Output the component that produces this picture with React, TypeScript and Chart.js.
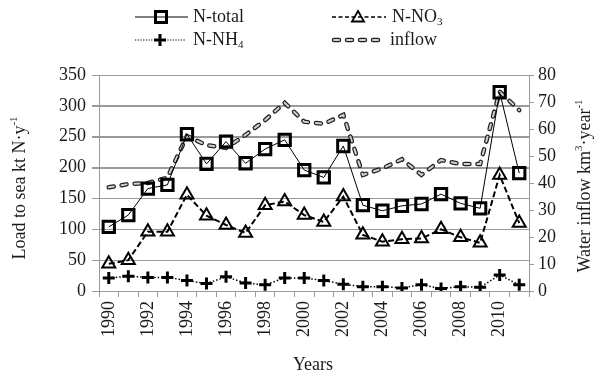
import React, { useEffect, useRef } from "react";
import { Chart, registerables } from "chart.js";

Chart.register(...registerables);

const years = ["1990","1991","1992","1993","1994","1995","1996","1997","1998","1999","2000","2001","2002","2003","2004","2005","2006","2007","2008","2009","2010","2011"];
const nTotal = [104, 123, 166, 172, 254, 206, 242, 207, 230, 245, 196, 184, 235, 139, 130, 138, 141, 157, 142, 134, 322, 191];
const nNO3 = [44, 50, 96, 96, 156, 122, 107, 94, 139, 145, 123, 112, 153, 91, 80, 84, 85, 100, 87, 78, 188, 110];
const nNH4 = [21, 24, 22, 22, 17, 12, 23, 13, 10, 21, 21, 17, 11, 7, 7, 5, 10, 4, 7, 6, 26, 10];
const inflow = [38.4, 39.6, 40, 42, 57.4, 54, 53, 57.8, 63.3, 69.7, 62.7, 61.9, 65.2, 43, 45.4, 48.8, 43, 48.5, 47, 47, 73.8, 67];
const leftTicks = [0, 50, 100, 150, 200, 250, 300, 350];

const leftTitle = [{ t: "Load to sea kt N·y", m: "n" }, { t: "-1", m: "sup" }];
const rightTitle = [{ t: "Water inflow km", m: "n" }, { t: "3", m: "sup" }, { t: "·year", m: "n" }, { t: "-1", m: "sup" }];
const xTitle = "Years";
const legendNames = {
  total: [{ t: "N-total", m: "n" }],
  no3: [{ t: "N-NO", m: "n" }, { t: "3", m: "sub" }],
  nh4: [{ t: "N-NH", m: "n" }, { t: "4", m: "sub" }],
  inflow: [{ t: "inflow", m: "n" }],
};

const FONT = '"Liberation Serif", "Times New Roman", Times, serif';
const GRID = "#9a9a9a";
const TEXT = "#1a1a1a";

type Part = { t: string; m: string };

function partFont(p: Part, size: number) {
  const s = p.m === "n" ? size : Math.round(size * 0.62);
  return `${s}px ${FONT}`;
}
function richWidth(ctx: CanvasRenderingContext2D, parts: Part[], size: number) {
  let w = 0;
  for (const p of parts) {
    ctx.font = partFont(p, size);
    w += ctx.measureText(p.t).width;
  }
  return w;
}
function drawRich(ctx: CanvasRenderingContext2D, parts: Part[], x: number, y: number, size: number, align: string, rot: number) {
  ctx.save();
  ctx.translate(x, y);
  ctx.rotate(rot);
  ctx.textBaseline = "middle";
  ctx.textAlign = "left";
  ctx.fillStyle = TEXT;
  const w = richWidth(ctx, parts, size);
  let cx = align === "center" ? -w / 2 : 0;
  for (const p of parts) {
    ctx.font = partFont(p, size);
    const dy = p.m === "sub" ? size * 0.3 : p.m === "sup" ? -size * 0.33 : 0;
    ctx.fillText(p.t, cx, dy);
    cx += ctx.measureText(p.t).width;
  }
  ctx.restore();
}

function square(ctx: CanvasRenderingContext2D, x: number, y: number, s: number) {
  ctx.save();
  ctx.strokeStyle = "#000";
  ctx.lineWidth = 3;
  ctx.strokeRect(x - s / 2, y - s / 2, s, s);
  ctx.restore();
}
function triangle(ctx: CanvasRenderingContext2D, x: number, y: number, r: number) {
  ctx.save();
  ctx.strokeStyle = "#000";
  ctx.lineWidth = 1.8;
  ctx.beginPath();
  ctx.moveTo(x, y - r);
  ctx.lineTo(x + r * 0.866, y + r * 0.5);
  ctx.lineTo(x - r * 0.866, y + r * 0.5);
  ctx.closePath();
  ctx.stroke();
  ctx.restore();
}
function plus(ctx: CanvasRenderingContext2D, x: number, y: number, r: number) {
  ctx.save();
  ctx.strokeStyle = "#000";
  ctx.lineWidth = 3;
  ctx.beginPath();
  ctx.moveTo(x - r, y);
  ctx.lineTo(x + r, y);
  ctx.moveTo(x, y - r);
  ctx.lineTo(x, y + r);
  ctx.stroke();
  ctx.restore();
}
function seg(ctx: CanvasRenderingContext2D, x1: number, x2: number, y: number, w: number, dash: number[], color: string, cap: CanvasLineCap) {
  ctx.save();
  ctx.strokeStyle = color;
  ctx.lineWidth = w;
  ctx.setLineDash(dash);
  ctx.lineCap = cap;
  ctx.beginPath();
  ctx.moveTo(x1, y);
  ctx.lineTo(x2, y);
  ctx.stroke();
  ctx.restore();
}

const gridPlugin = {
  id: "hgrid",
  beforeDatasetsDraw(chart: any) {
    const ctx: CanvasRenderingContext2D = chart.ctx;
    const ys = chart.scales.y;
    const area = chart.chartArea;
    ctx.save();
    ctx.strokeStyle = GRID;
    ctx.lineWidth = 1;
    for (const v of leftTicks) {
      const py = Math.round(ys.getPixelForValue(v)) + 0.5;
      ctx.beginPath();
      ctx.moveTo(area.left - 7, py);
      ctx.lineTo(area.right, py);
      ctx.stroke();
    }
    ctx.restore();
  },
};

const decorPlugin = {
  id: "decor",
  afterDraw(chart: any) {
    const ctx: CanvasRenderingContext2D = chart.ctx;
    // legend row 1
    seg(ctx, 135, 188, 17, 1, [], "#000", "butt");
    square(ctx, 161, 17, 11);
    drawRich(ctx, legendNames.total, 193, 17, 18, "left", 0);
    seg(ctx, 332, 386, 17, 1.6, [4, 2.5], "#000", "butt");
    triangle(ctx, 358, 18, 7);
    drawRich(ctx, legendNames.no3, 392, 17, 18, "left", 0);
    // legend row 2
    seg(ctx, 135, 186, 40, 1.2, [1.2, 1.5], "#000", "butt");
    plus(ctx, 160, 40, 6);
    drawRich(ctx, legendNames.nh4, 193, 40, 18, "left", 0);
    seg(ctx, 334, 384, 40, 4.5, [5, 8], "#222", "round");
    seg(ctx, 334, 384, 40, 2, [5, 8], "#d0d0d0", "round");
    drawRich(ctx, legendNames.inflow, 390, 40, 18, "left", 0);
    // axis titles
    drawRich(ctx, leftTitle as Part[], 20, 188, 18, "center", -Math.PI / 2);
    drawRich(ctx, rightTitle as Part[], 585, 186, 18, "center", -Math.PI / 2);
    drawRich(ctx, [{ t: xTitle, m: "n" }], 313, 365, 18, "center", 0);
  },
};

export default function App() {
  const ref = useRef<HTMLCanvasElement>(null);
  useEffect(() => {
    const canvas = ref.current!;
    const tickFont = { family: FONT, size: 18 };
    const chart = new Chart(canvas, {
      type: "line",
      data: {
        labels: years,
        datasets: [
          {
            label: "N-total",
            data: nTotal,
            yAxisID: "y",
            borderColor: "#000",
            borderWidth: 1,
            pointStyle: "rect",
            pointRadius: 8,
            pointBorderWidth: 3,
            pointBorderColor: "#000",
            pointBackgroundColor: "rgba(0,0,0,0)",
            tension: 0,
          },
          {
            label: "N-NO3",
            data: nNO3,
            yAxisID: "y",
            borderColor: "#000",
            borderWidth: 2,
            borderDash: [6, 3],
            pointStyle: "triangle",
            pointRadius: 7.5,
            pointBorderWidth: 2,
            pointBorderColor: "#000",
            pointBackgroundColor: "rgba(0,0,0,0)",
            tension: 0,
          },
          {
            label: "N-NH4",
            data: nNH4,
            yAxisID: "y",
            borderColor: "#000",
            borderWidth: 1.5,
            borderDash: [1.5, 2],
            pointStyle: "cross",
            pointRadius: 6,
            pointBorderWidth: 3,
            pointBorderColor: "#000",
            tension: 0,
          },
          {
            label: "inflow",
            data: inflow,
            yAxisID: "y2",
            borderColor: "#d0d0d0",
            borderWidth: 2,
            borderDash: [5, 8],
            borderCapStyle: "round",
            pointRadius: 0,
            tension: 0,
          },
          {
            label: "inflow-outline",
            data: inflow,
            yAxisID: "y2",
            borderColor: "#222",
            borderWidth: 4.5,
            borderDash: [5, 8],
            borderCapStyle: "round",
            pointRadius: 0,
            tension: 0,
          },
        ],
      },
      options: {
        responsive: false,
        animation: false,
        layout: { padding: { top: 75, left: 0, right: 0, bottom: 0 } },
        plugins: { legend: { display: false }, tooltip: { enabled: false }, title: { display: false } },
        scales: {
          x: {
            type: "category",
            offset: true,
            grid: { offset: true, drawOnChartArea: false, drawTicks: true, tickLength: 6, color: GRID },
            border: { display: true, color: GRID },
            ticks: {
              autoSkip: false,
              minRotation: 90,
              maxRotation: 90,
              padding: 4,
              color: TEXT,
              font: tickFont,
              callback: (_v: any, i: number) => (i % 2 === 0 ? years[i] : ""),
            },
            afterFit: (s: any) => { s.height = 83; },
          },
          y: {
            position: "left",
            min: 0,
            max: 350,
            ticks: { stepSize: 50, color: TEXT, font: tickFont, padding: 6 },
            grid: { display: true, drawOnChartArea: true, color: GRID, lineWidth: 1, tickLength: 7 },
            border: { display: true, color: GRID },
            afterFit: (s: any) => { s.width = 99; },
          },
          y2: {
            position: "right",
            min: 0,
            max: 80,
            ticks: { stepSize: 10, color: TEXT, font: tickFont, padding: 4 },
            grid: { drawOnChartArea: false, color: GRID, tickLength: 5 },
            border: { display: true, color: GRID },
            afterFit: (s: any) => { s.width = 71; },
          },
        },
      },
      plugins: [gridPlugin, decorPlugin],
    } as any);
    return () => chart.destroy();
  }, []);
  return (
    <div style={{ position: "absolute", left: 0, top: 0, width: 600, height: 374, background: "#fff" }}>
      <canvas ref={ref} width={600} height={374} style={{ display: "block" }} />
    </div>
  );
}
